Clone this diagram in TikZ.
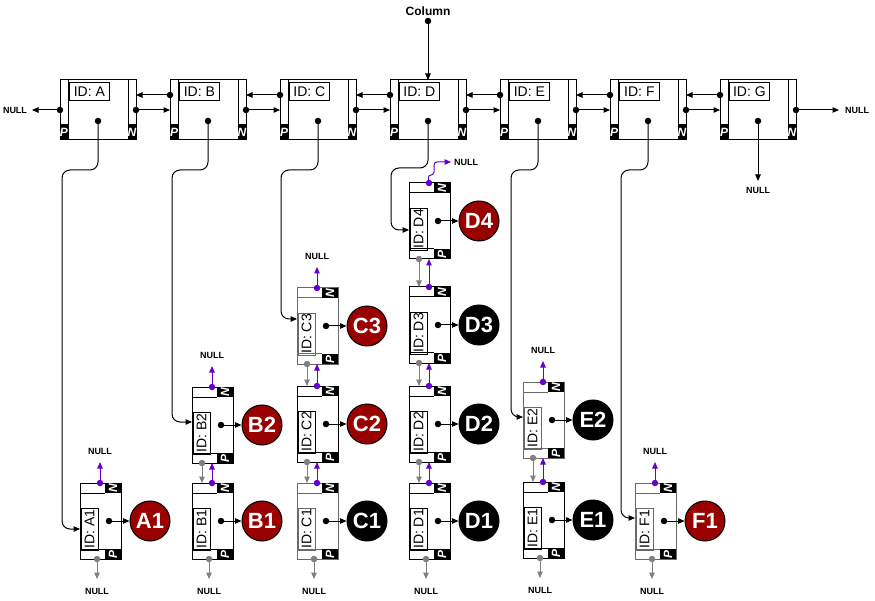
\documentclass[tikz,border=0pt]{standalone}
\usepackage{fontspec}
\setmainfont{Liberation Sans}
\usetikzlibrary{arrows.meta,calc}
\definecolor{nullpurple}{RGB}{102,0,204}
\definecolor{linkgray}{RGB}{128,128,128}
\definecolor{boxgray}{RGB}{105,105,105}
\definecolor{balldark}{RGB}{153,0,0}
\tikzset{
  box/.style={line width=1pt},
  taglbl/.style={font=\fontsize{12}{12}\selectfont\bfseries\itshape, text=white, inner sep=0pt},
  idbox/.style={draw, line width=0.8pt, inner sep=0pt, font=\fontsize{14}{14}\selectfont},
  dot/.style={circle, fill=black, inner sep=0pt, minimum size=6.5pt},
  arr/.style={line width=1pt, -{Triangle[length=6.5pt,width=5.5pt]}},
  conn/.style={arr, rounded corners=8pt},
  nulltxt/.style={font=\fontsize{9}{10}\selectfont\bfseries, inner sep=0pt},
  coltxt/.style={font=\fontsize{12}{12}\selectfont\bfseries, inner sep=0pt},
  ball/.style={circle, draw=black, line width=1pt, minimum size=40pt, inner sep=0pt, text=white, font=\fontsize{22}{22}\selectfont\bfseries}
}
\newcommand{\mkhnode}[3]{%
\begin{scope}[shift={(#2,80)}]
\draw[box] (0,0) rectangle (76,60);
\draw[box] (8,0) -- (8,60) (68,0) -- (68,60);
\fill (0,44) rectangle (8,60);
\fill (68,44) rectangle (76,60);
\node[taglbl] (#1-ptag) at (4,52.5) {P};
\node[taglbl] (#1-ntag) at (72,52.5) {N};
\node[idbox, minimum width=40pt, minimum height=18pt, anchor=north west] (#1-id) at (9,2) {ID: #3};
\coordinate (#1-nf) at (76,30);
\coordinate (#1-pf) at (0,30);
\coordinate (#1-pb) at (0,15);
\coordinate (#1-nb) at (76,15);
\coordinate (#1-top) at (38,0);
\coordinate (#1-dc) at (38,41);
\end{scope}}
\newcommand{\mkvnode}[6]{%
\begin{scope}[shift={(#2,#3)}]
\draw[box,draw=#4] (0,0) rectangle (41,76);
\draw[box,draw=#4] (0,10) -- (25,10) (0,66) -- (25,66);
\fill (25,0) rectangle (41,10);
\fill (25,66) rectangle (41,76);
\node[taglbl,rotate=90] (#1-ntag) at (33,5) {N};
\node[taglbl,rotate=90] (#1-ptag) at (33,71) {P};
\node[idbox,draw=#4,rotate=90,minimum width=42pt,minimum height=17pt] (#1-id) at (9.5,46) {ID: #1};
\coordinate (#1-dc) at (29,38);
\coordinate (#1-tp) at (20,0);
\coordinate (#1-tg) at (10,0);
\coordinate (#1-bg) at (10,76);
\coordinate (#1-bp) at (20,76);
\coordinate (#1-bn) at (17,76);
\coordinate (#1-in) at (0,#6);
\end{scope}
\node[ball,fill=#5] (#1-ball) at (#2+70,#3+38) {#1};
\draw[arr] (#1-dc) -- (#1-ball);
\node[dot] (#1-dot) at (#1-dc) {};
}
\begin{document}
\begin{tikzpicture}[x=1pt,y=-1pt]
\useasboundingbox (0,0) rectangle (875,601);
% top row
\mkhnode{A}{60}{A}
\mkhnode{B}{170}{B}
\mkhnode{C}{280}{C}
\mkhnode{D}{390}{D}
\mkhnode{E}{500}{E}
\mkhnode{F}{610}{F}
\mkhnode{G}{720}{G}
\foreach \a/\b in {A/B,B/C,C/D,D/E,E/F,F/G}{
  \draw[arr] (\a-nf) -- (\b-pf);
  \draw[arr] (\b-pb) -- (\a-nb);
  \node[dot] (\a-nfd) at (\a-nf) {};
  \node[dot] (\b-pbd) at (\b-pb) {};
}
% column pointer
\node[coltxt] (col) at (428,11) {Column};
\node[dot] (cold) at (428,21) {};
\draw[arr] (cold.center) -- (D-top);
% outer NULLs of the top row
\node[nulltxt] (nullL) at (15,110) {NULL};
\coordinate (nullLt) at (32,110);
\draw[arr] (A-pf) -- (nullLt);
\node[dot] (A-pfd) at (A-pf) {};
\node[nulltxt] (nullR) at (857,110) {NULL};
\coordinate (nullRt) at (839,110);
\draw[arr] (G-nf) -- (nullRt);
\node[dot] (G-nfd) at (G-nf) {};
\node[nulltxt] (nullG) at (758,190) {NULL};
\coordinate (nullGt) at (758,181);
% vertical nodes
\mkvnode{A1}{80}{483}{black}{balldark}{46}
\mkvnode{B2}{192}{387}{black}{balldark}{35}
\mkvnode{B1}{192}{483}{black}{balldark}{38}
\mkvnode{C3}{297}{288}{boxgray}{balldark}{31}
\mkvnode{C2}{297}{386}{black}{balldark}{38}
\mkvnode{C1}{297}{483}{boxgray}{black}{38}
\mkvnode{D4}{409}{183}{black}{balldark}{47}
\mkvnode{D3}{409}{287}{black}{black}{38}
\mkvnode{D2}{409}{386}{black}{black}{38}
\mkvnode{D1}{409}{483}{black}{black}{38}
\mkvnode{E2}{523}{382}{boxgray}{black}{35}
\mkvnode{E1}{523}{482}{black}{black}{38}
\mkvnode{F1}{635}{483}{boxgray}{balldark}{35}
% connectors from the column list into each row list
\draw[conn] (A-dc) |- (62,170) |- (A1-in);
\draw[conn] (B-dc) |- (172,170) |- (B2-in);
\draw[conn] (C-dc) |- (281,170) |- (C3-in);
\draw[conn] (D-dc) |- (391,168) |- (D4-in);
\draw[conn] (E-dc) |- (511,170) |- (E2-in);
\draw[conn] (F-dc) |- (621,170) |- (F1-in);
\draw[arr] (G-dc) -- (nullGt);
\foreach \n in {A,B,C,D,E,F,G}{\node[dot] (\n-dot) at (\n-dc) {};}
% links between stacked nodes
\foreach \u/\l in {B2/B1,C3/C2,C2/C1,D4/D3,D3/D2,D2/D1,E2/E1}{
  \draw[arr,linkgray] (\u-bg) -- (\l-tg);
  \node[dot,fill=linkgray] (\u-bgd) at (\u-bg) {};
  \draw[arr,nullpurple] (\l-tp) -- (\u-bp);
  \node[dot,fill=nullpurple] (\l-tpd) at (\l-tp) {};
}
% top NULLs
\foreach \n in {A1,B2,C3,E2,F1}{
  \node[nulltxt] (\n-nullt) at ($(\n-tp)+(0,-32)$) {NULL};
  \coordinate (\n-ntip) at ($(\n-tp)+(0,-21)$);
  \draw[arr,nullpurple] (\n-tp) -- (\n-ntip);
  \node[dot,fill=nullpurple] (\n-tpd) at (\n-tp) {};
}
% D4 top NULL
\node[nulltxt] (D4-nullt) at (466,162) {NULL};
\coordinate (D4-ntip) at (451,162);
\draw[arr,nullpurple,rounded corners=3pt] (D4-tp) -- (428,175) -- (434,175) -- (434,162) -- (D4-ntip);
\node[dot,fill=nullpurple] (D4-tpd) at (D4-tp) {};
% bottom NULLs
\foreach \n in {A1,B1,C1,D1,E1,F1}{
  \node[nulltxt] (\n-nullb) at ($(\n-bn)+(0,32)$) {NULL};
  \coordinate (\n-btip) at ($(\n-bn)+(0,20)$);
  \draw[arr,linkgray] (\n-bn) -- (\n-btip);
  \node[dot,fill=linkgray] (\n-bnd) at (\n-bn) {};
}
\end{tikzpicture}
\end{document}
